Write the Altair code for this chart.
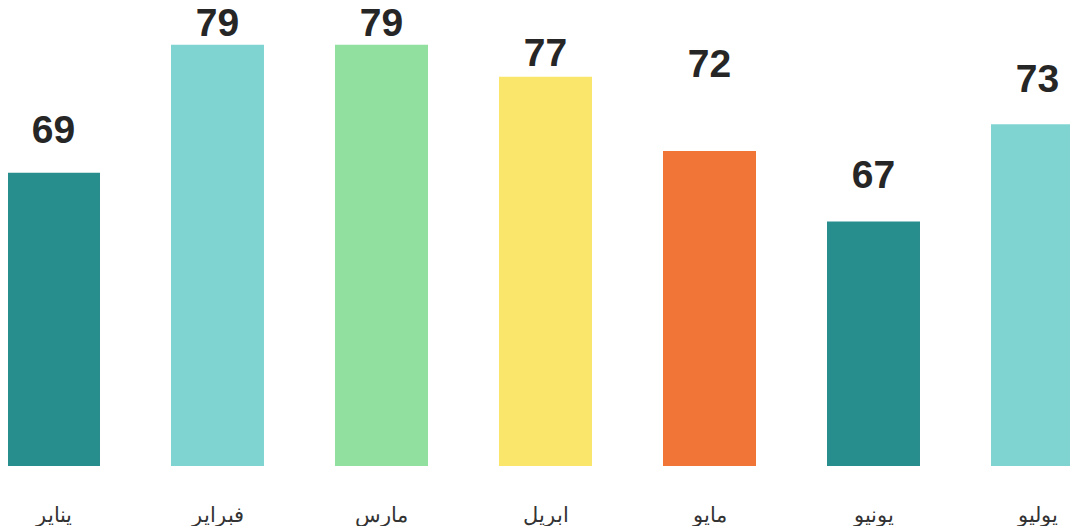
import altair as alt
import pandas as pd

months = ["يناير", "فبراير", "مارس", "ابريل", "مايو", "يونيو", "يوليو"]
bar_values = [69.0, 79.0, 79.0, 76.5, 70.7, 65.2, 72.8]
label_text = ["69", "79", "79", "77", "72", "67", "73"]
label_levels = [71.3, 79.7, 79.7, 77.35, 76.5, 67.8, 75.3]
colors = ["#288D8D", "#7FD4D2", "#92E0A0", "#F9E66B", "#F07536", "#288D8D", "#7FD4D2"]

df = pd.DataFrame({
    "month": months,
    "value": bar_values,
    "label": label_text,
    "level": label_levels,
    "color": colors,
})

x = alt.X(
    "month:N",
    sort=months,
    title=None,
    scale=alt.Scale(range=[-36.5, 1111.5], paddingInner=0.433, paddingOuter=0.2165),
    axis=alt.Axis(
        domain=False, ticks=False, grid=False, labelAngle=0,
        labelFont="Liberation Sans", labelFontSize=21, labelColor="#333333",
        labelPadding=38, labelBaseline="top",
    ),
)
yscale = alt.Scale(domain=[46.1, 81.88], nice=False, zero=False)

bars = alt.Chart(df).mark_bar().encode(
    x=x,
    y=alt.Y("value:Q", scale=yscale, axis=None),
    y2=alt.datum(46.1),
    color=alt.Color("color:N", scale=None, legend=None),
)

labels = alt.Chart(df).mark_text(
    font="Liberation Sans", fontSize=39, fontWeight="bold", color="#262626",
    baseline="alphabetic", align="center",
).encode(
    x=alt.X("month:N", sort=months),
    y=alt.Y("level:Q", scale=yscale, axis=None),
    text="label:N",
)

chart = alt.layer(bars, labels).properties(
    width=1062, height=458,
    autosize=alt.AutoSizeParams(type="none"),
    padding={"left": 0, "top": 0, "right": 0, "bottom": 60},
).configure_view(stroke=None)

chart.save("out.html", embed_options={"renderer": "svg", "actions": False})
